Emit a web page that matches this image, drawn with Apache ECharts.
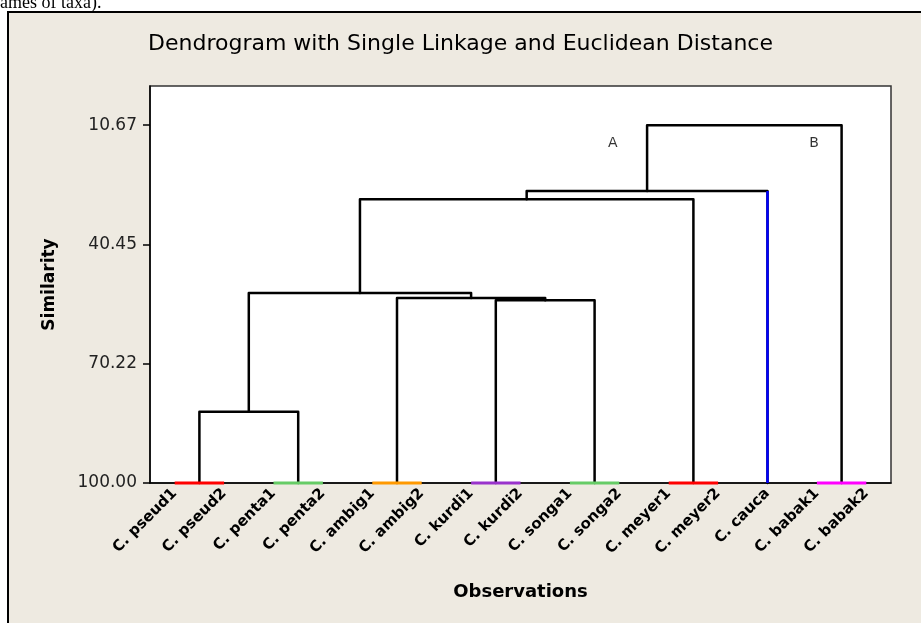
<!DOCTYPE html>
<html>
<head>
<meta charset="utf-8">
<script src="https://cdn.jsdelivr.net/npm/echarts@6/dist/echarts.min.js"></script>
<style>
  html, body { margin: 0; padding: 0; background: #fff; }
  #main { width: 921px; height: 623px; }
</style>
</head>
<body>
<div id="main"></div>
<script>
// leaves, left to right
var leaves = [
    'C. pseud1', 'C. pseud2', 'C. penta1', 'C. penta2', 'C. ambig1',
    'C. ambig2', 'C. kurdi1', 'C. kurdi2', 'C. songa1', 'C. songa2',
    'C. meyer1', 'C. meyer2', 'C. cauca', 'C. babak1', 'C. babak2'
];

// [left node, right node, similarity]; new nodes are numbered 15, 16, ...
var linkage = [
    [0, 1, 100],      // 15 pseud
    [2, 3, 100],      // 16 penta
    [4, 5, 100],      // 17 ambig
    [6, 7, 100],      // 18 kurdi
    [8, 9, 100],      // 19 songa
    [10, 11, 100],    // 20 meyer
    [13, 14, 100],    // 21 babak
    [15, 16, 82.2],   // 22
    [18, 19, 54.4],   // 23
    [17, 23, 53.8],   // 24
    [22, 24, 52.6],   // 25
    [25, 20, 29.2],   // 26
    [26, 12, 27.1],   // 27
    [27, 21, 10.67]   // 28
];

var tickValues = [10.67, 40.45, 70.22, 100.00];

// text marks: [label, x (leaf index), similarity]
var annotations = [
    ['A', 8.87, 15.2],
    ['B', 12.94, 15.2]
];

// colours of the final groups (by leaf index)
var leafColor = {
    0: '#ff0000', 1: '#ff0000',
    2: '#66cc66', 3: '#66cc66',
    4: '#ff9900', 5: '#ff9900',
    6: '#9933cc', 7: '#9933cc',
    8: '#66cc66', 9: '#66cc66',
    10: '#ff0000', 11: '#ff0000',
    12: '#0000ff',
    13: '#ff00ff', 14: '#ff00ff'
};

var nodeX = leaves.map(function (n, i) { return i; });
var nodeH = leaves.map(function () { return 100; });
var blackLines = [];
var colorLines = [];

linkage.forEach(function (m) {
    var a = m[0], b = m[1], s = m[2];
    var xa = nodeX[a], xb = nodeX[b];
    if (s === 100) {
        colorLines.push({
            coords: [[xa, s], [xb, s]],
            lineStyle: { color: leafColor[a], width: 3 }
        });
    } else {
        blackLines.push({
            coords: [[xa, nodeH[a]], [xa, s], [xb, s], [xb, nodeH[b]]]
        });
        [a, b].forEach(function (c) {
            if (c < leaves.length) {
                colorLines.push({
                    coords: [[nodeX[c], nodeH[c]], [nodeX[c], s]],
                    lineStyle: { color: leafColor[c], width: 2.5 }
                });
            }
        });
    }
    nodeX.push((xa + xb) / 2);
    nodeH.push(s);
});

var myChart = echarts.init(document.getElementById('main'));

var option = {
    animation: false,
    backgroundColor: '#eeeae1',
    textStyle: { fontFamily: 'DejaVu Sans' },
    title: {
        text: 'Dendrogram with Single Linkage and Euclidean Distance',
        left: 'center',
        top: 33,
        padding: 0,
        textStyle: {
            fontFamily: 'DejaVu Sans',
            fontSize: 22,
            fontWeight: 'normal',
            color: '#000'
        }
    },
    graphic: [
        { type: 'rect', shape: { x: 0, y: 0, width: 921, height: 12 }, style: { fill: '#fff' } },
        { type: 'rect', shape: { x: 0, y: 0, width: 8, height: 623 }, style: { fill: '#fff' } },
        {
            type: 'text', x: 0, y: 12,
            style: {
                text: 'ames of taxa).', font: '18px "Liberation Serif"', fill: '#000',
                verticalAlign: 'bottom'
            }
        },
        { type: 'line', shape: { x1: 7, y1: 12, x2: 921, y2: 12 }, style: { stroke: '#000', lineWidth: 2 } },
        { type: 'line', shape: { x1: 8, y1: 12, x2: 8, y2: 623 }, style: { stroke: '#000', lineWidth: 2 } }
    ],
    grid: {
        show: true,
        left: 150,
        right: 30,
        top: 86,
        bottom: 140,
        backgroundColor: '#fff',
        borderColor: '#333',
        borderWidth: 1.5
    },
    xAxis: [
        {
            type: 'category',
            data: leaves,
            boundaryGap: true,
            name: 'Observations',
            nameLocation: 'middle',
            nameGap: 100,
            nameTextStyle: { fontSize: 18, fontWeight: 'bold', color: '#000' },
            axisLine: { lineStyle: { color: '#000', width: 1.5 } },
            axisTick: { alignWithLabel: true, length: 6, lineStyle: { color: '#000', width: 1.5 } },
            axisLabel: {
                interval: 0,
                rotate: 45,
                margin: 8,
                fontSize: 15,
                fontWeight: 'bold',
                color: '#000'
            },
            splitLine: { show: false }
        },
        {
            type: 'value',
            min: -0.5,
            max: 14.5,
            show: false
        }
    ],
    yAxis: {
        type: 'value',
        inverse: true,
        min: 0.9,
        max: 100,
        name: 'Similarity',
        nameLocation: 'middle',
        nameGap: 92,
        nameTextStyle: { fontSize: 17, fontWeight: 'bold', color: '#000' },
        axisLine: { show: true, onZero: false, lineStyle: { color: '#000', width: 1.5 } },
        axisTick: { show: true, customValues: tickValues, length: 7, lineStyle: { color: '#000', width: 1.5 } },
        axisLabel: {
            customValues: tickValues,
            formatter: function (v) { return (+v).toFixed(2); },
            fontSize: 17,
            margin: 13,
            color: '#222'
        },
        splitLine: { show: false }
    },
    series: [
        {
            type: 'lines',
            coordinateSystem: 'cartesian2d',
            xAxisIndex: 1,
            polyline: true,
            clip: false,
            lineStyle: { color: '#000', width: 2.5, opacity: 1, cap: 'round', join: 'round' },
            data: blackLines,
            z: 3
        },
        {
            type: 'lines',
            coordinateSystem: 'cartesian2d',
            xAxisIndex: 1,
            polyline: true,
            clip: false,
            lineStyle: { width: 3, opacity: 1 },
            data: colorLines,
            z: 4
        },
        {
            type: 'scatter',
            xAxisIndex: 1,
            symbolSize: 0,
            data: annotations.map(function (a) { return { name: a[0], value: [a[1], a[2]] }; }),
            label: {
                show: true,
                position: 'inside',
                formatter: '{b}',
                fontSize: 14,
                color: '#000'
            },
            z: 5
        }
    ]
};

myChart.setOption(option);
</script>
</body>
</html>
